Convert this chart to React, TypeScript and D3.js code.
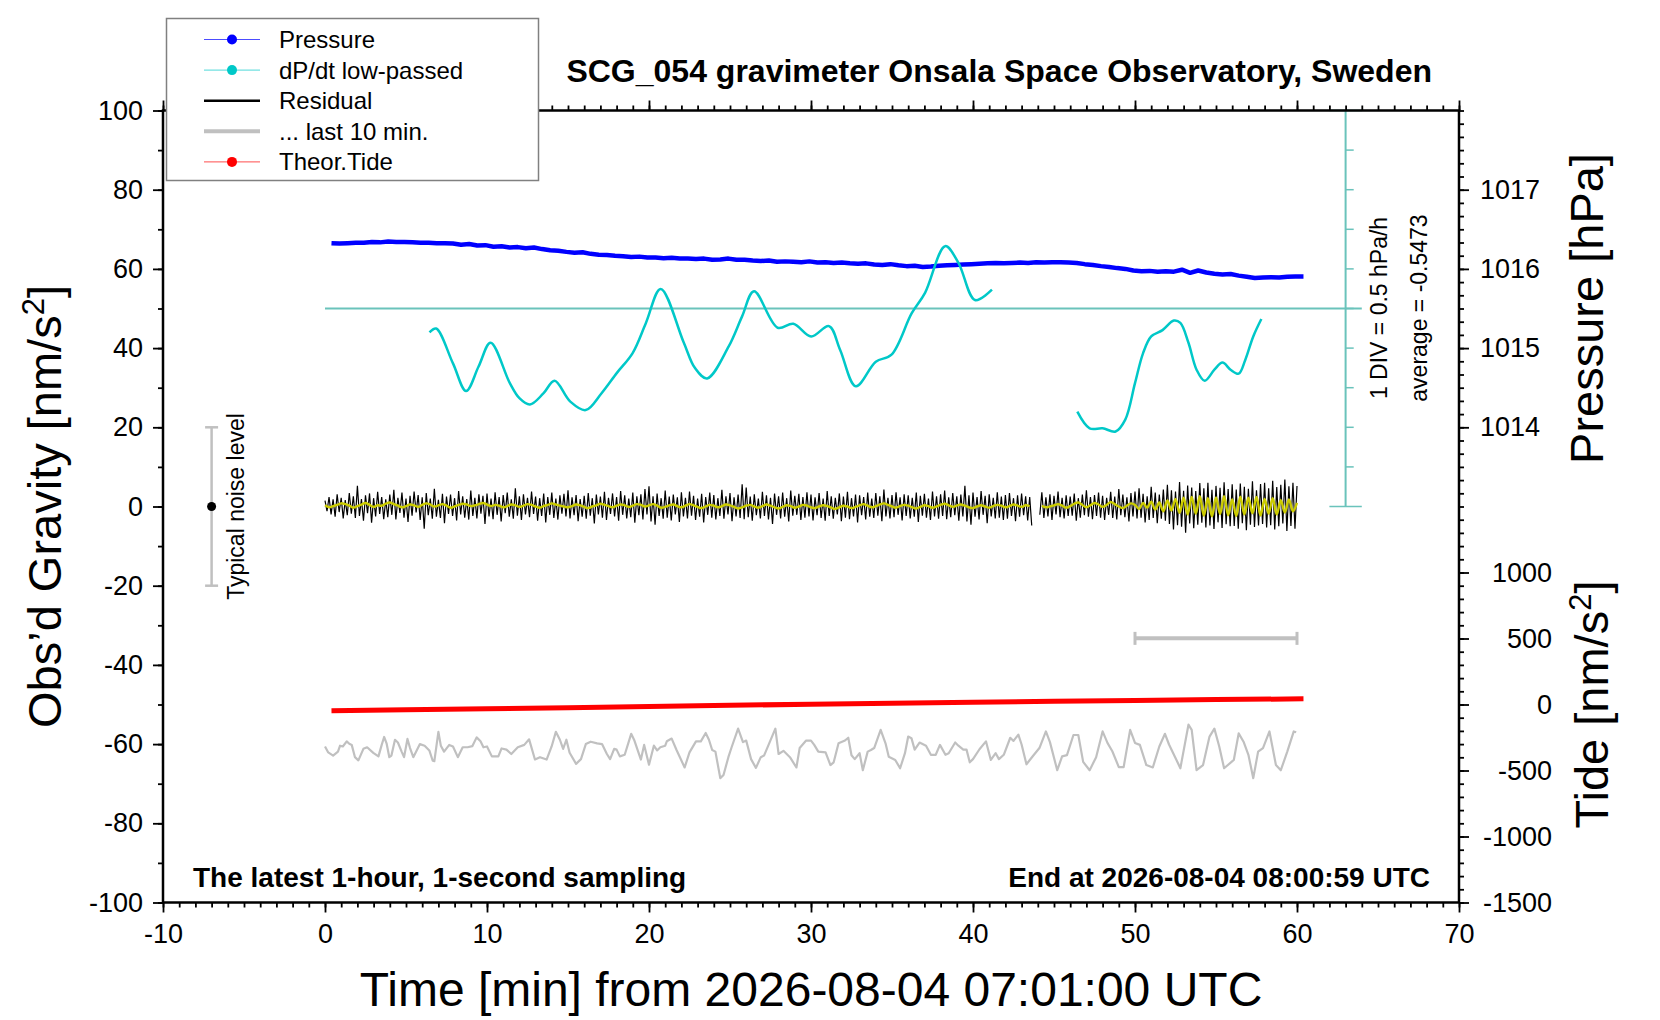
import React, { useEffect, useRef } from 'react';
import * as d3 from 'd3';

const WIDTH = 1660;
const HEIGHT = 1020;
const FONT = '"Liberation Sans", Arial, Helvetica, sans-serif';

// Pressure [hPa], one value every 0.5 min from t = 0.4 min
const PRESSURE_T0 = 0.4;
const PRESSURE_STEP = 0.5;
const pressure = [
  1016.325, 1016.32, 1016.325, 1016.33, 1016.33, 1016.34, 1016.335, 1016.345, 1016.34, 1016.34,
  1016.335, 1016.33, 1016.33, 1016.325, 1016.325, 1016.32, 1016.305, 1016.315, 1016.295, 1016.3,
  1016.28, 1016.285, 1016.27, 1016.275, 1016.26, 1016.27, 1016.25, 1016.235, 1016.23, 1016.215,
  1016.205, 1016.21, 1016.19, 1016.18, 1016.175, 1016.165, 1016.16, 1016.15, 1016.155, 1016.145,
  1016.145, 1016.135, 1016.14, 1016.13, 1016.13, 1016.125, 1016.13, 1016.115, 1016.12, 1016.13,
  1016.115, 1016.115, 1016.105, 1016.1, 1016.105, 1016.09, 1016.095, 1016.09, 1016.085, 1016.095,
  1016.08, 1016.085, 1016.075, 1016.08, 1016.07, 1016.065, 1016.07, 1016.055, 1016.05, 1016.06,
  1016.045, 1016.035, 1016.04, 1016.025, 1016.03, 1016.04, 1016.045, 1016.05, 1016.055, 1016.06,
  1016.065, 1016.07, 1016.075, 1016.07, 1016.075, 1016.08, 1016.075, 1016.085, 1016.08, 1016.085,
  1016.085, 1016.08, 1016.075, 1016.06, 1016.05, 1016.035, 1016.025, 1016.01, 1016.0, 1015.98,
  1015.97, 1015.975, 1015.965, 1015.97, 1015.965, 1015.99, 1015.95, 1015.98, 1015.955, 1015.94,
  1015.93, 1015.935, 1015.915, 1015.9, 1015.885, 1015.89, 1015.895, 1015.89, 1015.9, 1015.905,
  1015.905,
];

// dP/dt low-passed [hPa/h], two segments of [time min, value]
const DPDT_AVG = -0.5473;
const DPDT_DIV = 0.5;
const dpdtSeg1: [number, number][] = [
  [6.45, -0.85], [6.86, -0.8], [7.9, -1.24], [8.71, -1.59], [9.48, -1.28], [10.22, -0.98],
  [11.41, -1.49], [12.0, -1.68], [12.65, -1.76], [13.48, -1.62], [14.17, -1.46], [15.13, -1.72],
  [16.09, -1.83], [17.06, -1.62], [18.02, -1.36], [18.99, -1.11], [19.81, -0.73], [20.72, -0.3],
  [22.15, -0.98], [22.84, -1.3], [23.59, -1.43], [24.91, -1.03], [25.74, -0.65], [26.48, -0.33],
  [27.94, -0.79], [28.91, -0.74], [30.01, -0.9], [31.11, -0.77], [31.8, -1.07], [32.77, -1.53],
  [34.0, -1.22], [34.97, -1.13], [36.21, -0.61], [37.04, -0.35], [38.28, 0.24], [39.1, 0.03],
  [40.12, -0.44], [41.17, -0.31],
];
const dpdtSeg2: [number, number][] = [
  [46.44, -1.85], [47.2, -2.06], [48.0, -2.06], [48.8, -2.1], [49.4, -1.95], [50.0, -1.49],
  [50.5, -1.11], [51.0, -0.9], [51.7, -0.82], [52.4, -0.7], [52.8, -0.73], [53.3, -0.98],
  [53.8, -1.32], [54.3, -1.46], [54.9, -1.32], [55.4, -1.23], [55.9, -1.32], [56.4, -1.37],
  [56.8, -1.2], [57.3, -0.9], [57.8, -0.68],
];

// Residual [nm/s^2], 1-second data shown every 7.5 s from t = 0
const RES_STEP = 0.125;
const residual: (number | null)[] = [
  1.5, -1.2, 2.4, -2.0, 1.8, -2.6, 3.1, -1.4, 2.2, -3.0, 1.6, -2.2, 3.4, -1.8, 2.6, -2.9,
  5.2, -2.4, 1.9, -3.6, 2.8, -1.7, 3.3, -4.1, 2.1, -2.5, 3.7, -1.9, 2.4, -3.2, 1.8, -2.7,
  3.0, -2.1, 4.2, -3.3, 2.2, -1.6, 3.5, -2.8, 2.0, -3.9, 2.7, -2.3, 3.8, -1.5, 2.9, -3.4,
  2.3, -5.6, 3.4, -2.2, 2.0, -3.1, 4.5, -2.6, 1.7, -2.9, 3.2, -4.2, 2.5, -1.9, 3.0, -2.4,
  2.1, -3.5, 3.9, -2.0, 2.6, -2.8, 1.9, -3.3, 4.0, -2.4, 2.2, -3.0, 3.1, -1.8, 2.7, -4.4,
  3.3, -2.5, 2.0, -3.2, 3.6, -2.1, 2.4, -3.8, 2.9, -1.7, 3.5, -2.6, 1.8, -3.1, 4.6, -2.3,
  2.6, -3.4, 3.1, -2.0, 2.2, -2.7, 3.8, -1.9, 2.5, -3.6, 2.1, -2.4, 3.3, -4.0, 2.4, -2.1,
  3.5, -2.9, 2.0, -3.3, 2.8, -1.8, 3.2, -2.5, 4.1, -3.0, 2.3, -2.2, 2.9, -3.7, 1.9, -2.6,
  2.7, -3.1, 3.4, -2.3, 2.1, -4.3, 3.0, -2.0, 2.5, -2.8, 3.7, -3.4, 2.2, -1.9, 3.3, -2.5,
  2.4, -3.6, 3.9, -2.1, 2.8, -3.0, 2.0, -2.7, 3.5, -4.1, 2.6, -2.2, 3.1, -3.3, 4.4, -2.0,
  5.1, -3.8, 2.6, -4.6, 3.3, -2.4, 2.1, -3.1, 4.0, -2.8, 2.5, -3.5, 3.0, -2.0, 2.3, -3.9,
  3.6, -2.5, 2.2, -3.0, 3.8, -2.3, 2.7, -3.4, 2.0, -2.6, 3.2, -4.0, 2.4, -2.1, 3.5, -2.8,
  2.9, -3.3, 2.1, -2.4, 4.2, -3.1, 2.6, -2.0, 3.4, -3.7, 2.3, -2.5, 3.0, -2.9, 5.6, -3.2,
  4.8, -2.7, 2.5, -3.6, 3.1, -2.2, 2.0, -3.0, 3.7, -2.4, 2.8, -3.3, 2.2, -4.4, 3.3, -2.1,
  2.6, -3.0, 3.5, -2.6, 2.1, -3.8, 4.0, -2.3, 2.7, -2.1, 3.2, -3.4, 2.4, -2.8, 3.6, -2.5,
  3.0, -3.5, 2.3, -2.2, 3.4, -2.9, 2.0, -3.6, 3.9, -2.4, 2.6, -3.1, 2.2, -2.0, 3.3, -3.7,
  2.5, -2.8, 3.7, -3.2, 2.1, -2.5, 3.0, -4.0, 2.8, -2.2, 2.4, -3.3, 3.5, -2.6, 2.0, -2.9,
  3.4, -2.3, 2.6, -3.7, 4.3, -2.5, 2.2, -3.0, 2.9, -2.7, 3.6, -2.1, 2.3, -3.5, 3.1, -2.4,
  2.8, -3.0, 2.2, -2.6, 3.5, -3.9, 2.7, -2.3, 3.2, -2.8, 2.0, -3.4, 3.8, -2.5, 2.6, -3.1,
  3.1, -2.4, 4.0, -3.2, 2.3, -2.7, 3.4, -2.2, 2.6, -3.6, 3.0, -2.5, 5.2, -3.8, 2.8, -4.6,
  3.5, -2.6, 2.4, -3.3, 3.9, -2.1, 2.7, -4.2, 3.1, -2.5, 2.2, -3.0, 3.6, -2.8, 2.5, -3.4,
  2.9, -3.1, 3.4, -2.4, 2.1, -3.7, 2.8, -2.6, 3.3, -2.2, 2.6, -3.5, 2.4, -4.8, null, null,
  null, -2.1, 3.6, -2.9, 2.3, -2.5, 3.1, -3.4, 2.7, -2.0, 3.8, -2.7, 2.2, -3.0, 2.8, -2.4,
  2.5, -2.3, 3.3, -3.6, 2.1, -2.8, 3.0, -2.2, 4.1, -2.6, 2.4, -3.2, 2.9, -2.4, 3.5, -2.8,
  2.7, -3.4, 2.2, -2.1, 3.7, -2.9, 2.5, -3.3, 4.4, -2.2, 3.0, -2.7, 2.3, -3.8, 3.4, -2.5,
  3.8, -3.0, 4.6, -2.8, 3.2, -4.0, 2.6, -3.4, 5.0, -2.9, 3.5, -4.2, 3.0, -3.1, 4.3, -3.6,
  5.5, -4.4, 4.1, -5.8, 3.8, -4.7, 6.2, -5.1, 4.0, -6.6, 5.3, -4.3, 4.8, -5.5, 3.9, -4.6,
  5.9, -4.1, 4.6, -5.3, 6.0, -4.8, 4.2, -5.7, 5.2, -4.0, 4.7, -5.4, 6.1, -4.5, 4.4, -5.0,
  5.6, -4.9, 4.3, -5.6, 5.8, -4.2, 5.0, -6.0, 4.5, -4.6, 6.4, -5.2, 4.1, -4.8, 5.7, -4.4,
  6.0, -5.3, 4.6, -4.7, 6.5, -5.8, 4.9, -5.0, 5.5, -4.3, 6.8, -6.2, 5.1, -4.9, 6.0, -5.6,
  5.2,
];

// Smoothed residual [nm/s^2], every 15 s from t = 0
const SMOOTH_STEP = 0.25;
const residualSmooth: (number | null)[] = [
  0.3, -0.2, 0.1, 0.4, 0.8, 0.6, 0.2, -0.3, 0.1, 0.5, 0.9, 0.4, -0.1, 0.3, 0.2, 0.7, 1.0, 0.6, 0.2, -0.2,
  0.1, 0.5, 0.3, -0.1, 0.4, 0.8, 0.5, 0.0, 0.3, 0.6, 0.2, -0.3, 0.0, 0.4, 0.7, 0.5, 0.1, 0.3, 0.6, 0.9,
  0.5, 0.1, 0.4, 0.2, -0.2, 0.1, 0.5, 0.3, -0.1, 0.2, 0.6, 0.4, 0.0, -0.3, 0.1, 0.4, 0.8, 0.5, 0.2, 0.0,
  -0.2, 0.1, 0.5, 0.3, -0.1, -0.4, 0.0, 0.3, 0.7, 0.4, 0.1, -0.2, 0.2, 0.5, 0.3, -0.1, 0.2, 0.6, 0.4, 0.0,
  0.3, 0.6, 0.2, -0.3, -0.1, 0.3, 0.5, 0.1, -0.2, 0.2, 0.6, 0.3, -0.1, -0.4, 0.0, 0.4, 0.2, -0.2, 0.1, 0.5,
  0.3, -0.1, -0.5, -0.2, 0.2, 0.4, 0.0, -0.3, 0.1, 0.5, 0.2, -0.2, -0.5, -0.1, 0.3, 0.1, -0.3, 0.0, 0.4, 0.2,
  -0.2, -0.4, 0.0, 0.3, 0.1, -0.3, -0.6, -0.2, 0.2, 0.0, -0.4, -0.1, 0.3, 0.6, 0.2, -0.2, 0.1, 0.5, 0.8, 0.4,
  0.0, -0.3, 0.1, 0.4, 0.2, -0.2, -0.5, -0.1, 0.3, 0.1, -0.3, 0.0, 0.4, 0.7, 0.3, -0.1, 0.2, 0.5, 0.2, -0.2,
  -0.4, 0.0, 0.3, 0.0, -0.3, 0.1, 0.4, 0.2, -0.2, 0.1, 0.5, 0.2, -0.1, 0.3, 0.1, null, null, 0.2, -0.2, 0.0,
  0.3, 0.6, 0.2, -0.3, 0.1, 0.7, 1.0, 0.4, -0.2, 0.3, 0.9, 0.5, -0.1, 0.4, 1.1, 0.6, 0.0, -0.4, 0.2, 0.8,
  0.4, -0.6, 0.9, -0.3, 1.2, -0.8, 1.0, -1.2, 1.5, -1.0, 1.9, -1.6, 2.2, -2.0, 2.4, -1.8, 2.6, -2.3, 2.1, -2.5,
  2.3, -1.9, 2.6, -2.2, 1.8, -2.4, 2.5, -2.0, 2.2, -1.7, 2.4, -2.3, 1.9, -1.8, 2.1, -2.0, 1.6, -1.5, 1.8, -1.2,
  0.9,
];

// Last 10 min of residual [nm/s^2], stretched over the hour, drawn with an offset
const LAST10_OFFSET = -60;
const LAST10_RANGE = [50, 60];
const last10: [number, number][] = [
  [0, -0.6], [0.2, -2.1], [0.5, -2.9], [0.8, -1.9], [0.93, -0.4], [1.1, -0.6], [1.34, 0.7], [1.5, 0.1],
  [1.65, -0.2], [1.85, -3.3], [2.06, -4.1], [2.37, -1.2], [2.6, -0.8], [2.98, -2.2], [3.3, -3.1], [3.5, -0.2],
  [3.65, 1.8], [3.8, 0.2], [3.97, -3.3], [4.1, -2.9], [4.32, 1.1], [4.5, 0.4], [4.73, -1.9], [4.88, -3.3],
  [5.09, 1.3], [5.25, -1.0], [5.45, -3.3], [5.86, 0.0], [6.15, -0.4], [6.44, -1.6], [6.65, -4.2], [6.75, -4.3],
  [7.0, 3.1], [7.15, -0.4], [7.35, -1.9], [7.67, -0.2], [7.9, -0.6], [8.2, -3.3], [8.5, -0.8], [8.8, -0.8],
  [9.1, -0.5], [9.36, 1.7], [9.6, 0.7], [9.78, -0.8], [10.0, -0.6], [10.3, -3.1], [10.7, -3.1], [10.9, -1.1],
  [11.2, -1.4], [11.5, -2.5], [11.9, -0.8], [12.3, -0.2], [12.6, 1.2], [12.96, -3.9], [13.27, -3.3], [13.68, -3.9],
  [13.99, -0.6], [14.25, 3.1], [14.5, 1.1], [14.7, -1.2], [14.9, 1.1], [15.1, -2.2], [15.5, -5.0], [15.8, -3.8],
  [16.1, 0.0], [16.4, 0.6], [16.8, 0.2], [17.1, 0.0], [17.4, -2.5], [17.6, -3.8], [17.85, -1.2], [18.0, -1.4],
  [18.2, -3.1], [18.5, -2.7], [18.9, 2.6], [19.1, 0.9], [19.5, -3.9], [19.7, -0.2], [20.0, -5.2], [20.3, -0.4],
  [20.5, -1.6], [20.7, -0.8], [21.0, -0.4], [21.1, 0.7], [21.4, 1.4], [21.7, -1.5], [22.2, -5.9], [22.5, -2.1],
  [22.9, 0.7], [23.2, 0.7], [23.5, 2.8], [23.7, 1.1], [23.9, -1.5], [24.1, -1.9], [24.4, -8.6], [24.6, -7.8],
  [24.9, -3.3], [25.1, -0.8], [25.5, 3.9], [25.8, 0.5], [26.0, 0.9], [26.3, -3.8], [26.6, -6.0], [26.9, -3.3],
  [27.1, -2.9], [27.4, 0.0], [27.8, 3.9], [28.0, -2.5], [28.3, -1.7], [28.7, -3.3], [29.1, -5.9], [29.3, -1.0],
  [29.7, 0.9], [30.0, 0.9], [30.2, -0.2], [30.45, -1.9], [30.9, -2.1], [31.2, -5.3], [31.4, -4.6], [31.7, 0.2],
  [32.1, 0.9], [32.3, 1.6], [32.5, -2.8], [32.7, -3.8], [33.0, -2.3], [33.2, -6.6], [33.5, -1.9], [33.7, -1.5],
  [33.9, -1.0], [34.3, 3.6], [34.6, 0.2], [34.8, -3.2], [35.2, -4.0], [35.5, -6.1], [35.8, -2.3], [36.0, 1.9],
  [36.2, 1.5], [36.4, -1.4], [36.7, 0.4], [37.1, -0.4], [37.4, -2.7], [37.7, -2.7], [37.96, -0.2], [38.3, -2.7],
  [38.5, -2.3], [38.9, 0.4], [39.1, -0.4], [39.4, -1.4], [39.6, -1.4], [39.8, -4.6], [40.0, -3.8], [40.4, -1.3],
  [40.8, 0.7], [41.1, -4.0], [41.4, -2.3], [41.6, -3.8], [41.9, -2.7], [42.3, 1.6], [42.5, 0.8], [42.8, 2.4],
  [43.0, -0.1], [43.3, -5.1], [43.7, -3.0], [44.1, -1.0], [44.5, 3.2], [44.75, 0.5], [45.2, -6.6], [45.5, -3.1],
  [45.8, -2.8], [46.2, 2.3], [46.5, 2.3], [46.8, -4.5], [47.2, -6.6], [47.6, -3.3], [48.0, 3.2], [48.3, 0.3],
  [48.6, -1.8], [49.0, -5.8], [49.3, -5.8], [49.7, 3.6], [50.0, 0.3], [50.3, -0.2], [50.7, -5.3], [51.1, -5.9],
  [51.5, -0.6], [51.85, 2.6], [52.1, -0.1], [52.5, -3.5], [52.8, -6.1], [53.3, 4.9], [53.5, 3.6], [53.8, -6.6],
  [54.2, -5.3], [54.6, 1.9], [54.9, 3.9], [55.2, -0.6], [55.5, -6.1], [56.1, -4.0], [56.4, 2.7], [56.7, 0.6],
  [57.0, -2.7], [57.3, -8.6], [57.6, -1.9], [57.9, -1.0], [58.3, 3.2], [58.7, -5.3], [59.0, -6.6], [59.4, -1.9],
  [59.8, 3.2], [59.95, 3.0],
];

// Theoretical tide [nm/s^2]
const tideT = [0.4, 5, 10, 15, 20, 25, 30, 35, 40, 45, 50, 55, 60.4];
const tideV = [-48, -40, -32, -24, -15, -6, 2, 10, 17, 24, 31, 37, 43];

// Typical noise level bar [nm/s^2]
const NOISE_T = -7;
const NOISE_LEVEL = 20;

// Axis ticks
const timeTicks = d3.range(-10, 71, 10);
const gravityTicks = d3.range(-100, 101, 20);
const pressureTicks = [1014, 1015, 1016, 1017];
const tideTicks = [-1500, -1000, -500, 0, 500, 1000];

const legendItems = [
  { label: 'Pressure', color: '#0000ff', kind: 'dot' },
  { label: 'dP/dt low-passed', color: '#00c8c8', kind: 'dot' },
  { label: 'Residual', color: '#000000', kind: 'line' },
  { label: '... last 10 min.', color: '#c0c0c0', kind: 'thick' },
  { label: 'Theor.Tide', color: '#ff0000', kind: 'dot' },
];

export default function App() {
  const svgRef = useRef<SVGSVGElement>(null);

  useEffect(() => {
    if (!svgRef.current) return;
    const svg = d3.select(svgRef.current);
    svg.selectAll('*').remove();

    const left = 163;
    const right = 1459;
    const top = 110.5;
    const bottom = 902.5;

    const x = d3.scaleLinear().domain([-10, 70]).range([left, right]);
    const yG = d3.scaleLinear().domain([-100, 100]).range([bottom, top]);
    const yP = d3.scaleLinear().domain([1008, 1018]).range([bottom, top]);
    const yT = d3.scaleLinear().domain([-1500, 4500]).range([bottom, top]);
    const yD = d3
      .scaleLinear()
      .domain([DPDT_AVG - 15 * DPDT_DIV, DPDT_AVG + 5 * DPDT_DIV])
      .range([bottom, top]);

    const txt = (s: any, size: number) =>
      s.attr('font-family', FONT).attr('font-size', size).attr('fill', '#000');

    // dP/dt scale bar (teal)
    const teal = '#6ac3bb';
    const tealX = x(63);
    const divs = d3.range(-5, 6).map(k => DPDT_AVG + k * DPDT_DIV);
    svg.append('line')
      .attr('x1', x(0)).attr('x2', x(64))
      .attr('y1', yD(DPDT_AVG)).attr('y2', yD(DPDT_AVG))
      .attr('stroke', teal).attr('stroke-width', 2);
    svg.append('line')
      .attr('x1', tealX).attr('x2', tealX)
      .attr('y1', yD(divs[0])).attr('y2', yD(divs[divs.length - 1]))
      .attr('stroke', teal).attr('stroke-width', 2);
    svg.append('g')
      .selectAll('line')
      .data(divs)
      .join('line')
      .attr('x1', (d, i) => (i === 0 || i === divs.length - 1 ? x(62) : tealX))
      .attr('x2', (d, i) => (i === 0 || i === divs.length - 1 ? x(64) : x(63.5)))
      .attr('y1', d => yD(d)).attr('y2', d => yD(d))
      .attr('stroke', teal).attr('stroke-width', 1.5);

    txt(svg.append('text'), 23)
      .attr('transform', `translate(1387,308) rotate(-90)`)
      .attr('text-anchor', 'middle')
      .text(`1 DIV = ${DPDT_DIV} hPa/h`);
    txt(svg.append('text'), 23)
      .attr('transform', `translate(1427,308) rotate(-90)`)
      .attr('text-anchor', 'middle')
      .text(`average = ${DPDT_AVG}`);

    // Pressure
    const pLine = d3.line<number>()
      .x((d, i) => x(PRESSURE_T0 + i * PRESSURE_STEP))
      .y(d => yP(d));
    svg.append('path')
      .datum(pressure)
      .attr('fill', 'none').attr('stroke', '#0000ff').attr('stroke-width', 4.5)
      .attr('stroke-linejoin', 'round')
      .attr('d', pLine);

    // dP/dt curves
    const dLine = d3.line<[number, number]>()
      .x(d => x(d[0]))
      .y(d => yD(d[1]))
      .curve(d3.curveCatmullRom);
    [dpdtSeg1, dpdtSeg2].forEach(seg => {
      svg.append('path')
        .datum(seg)
        .attr('fill', 'none').attr('stroke', '#00c8c8').attr('stroke-width', 2.5)
        .attr('d', dLine);
    });

    // Residual + smoothed residual
    const rLine = d3.line<number | null>()
      .defined(d => d !== null)
      .x((d, i) => x(i * RES_STEP))
      .y(d => yG(d as number));
    svg.append('path')
      .datum(residual)
      .attr('fill', 'none').attr('stroke', '#000').attr('stroke-width', 1.2)
      .attr('d', rLine);
    const sLine = d3.line<number | null>()
      .defined(d => d !== null)
      .x((d, i) => x(i * SMOOTH_STEP))
      .y(d => yG(d as number))
      .curve(d3.curveCatmullRom);
    svg.append('path')
      .datum(residualSmooth)
      .attr('fill', 'none').attr('stroke', '#cccc00').attr('stroke-width', 2.4)
      .attr('d', sLine);

    // Theoretical tide
    const tLine = d3.line<number>()
      .x((d, i) => x(tideT[i]))
      .y(d => yT(d));
    svg.append('path')
      .datum(tideV)
      .attr('fill', 'none').attr('stroke', '#ff0000').attr('stroke-width', 5)
      .attr('d', tLine);

    // Last 10 min
    const lLine = d3.line<[number, number]>()
      .x(d => x(d[0]))
      .y(d => yG(d[1] + LAST10_OFFSET));
    svg.append('path')
      .datum(last10)
      .attr('fill', 'none').attr('stroke', '#c0c0c0').attr('stroke-width', 2.2)
      .attr('stroke-linejoin', 'round')
      .attr('d', lLine);

    const barY = yG(-33.3);
    svg.append('line')
      .attr('x1', x(LAST10_RANGE[0])).attr('x2', x(LAST10_RANGE[1]))
      .attr('y1', barY).attr('y2', barY)
      .attr('stroke', '#c0c0c0').attr('stroke-width', 4);
    LAST10_RANGE.forEach(t => {
      svg.append('line')
        .attr('x1', x(t)).attr('x2', x(t))
        .attr('y1', barY - 6.5).attr('y2', barY + 6.5)
        .attr('stroke', '#c0c0c0').attr('stroke-width', 3);
    });

    // Typical noise level
    const nx = x(NOISE_T);
    svg.append('line')
      .attr('x1', nx).attr('x2', nx)
      .attr('y1', yG(-NOISE_LEVEL)).attr('y2', yG(NOISE_LEVEL))
      .attr('stroke', '#c0c0c0').attr('stroke-width', 2.5);
    [-NOISE_LEVEL, NOISE_LEVEL].forEach(v => {
      svg.append('line')
        .attr('x1', nx - 6.5).attr('x2', nx + 6.5)
        .attr('y1', yG(v)).attr('y2', yG(v))
        .attr('stroke', '#c0c0c0').attr('stroke-width', 2.5);
    });
    svg.append('circle').attr('cx', nx).attr('cy', yG(0)).attr('r', 4.5).attr('fill', '#000');
    txt(svg.append('text'), 23)
      .attr('transform', `translate(244,${yG(0)}) rotate(-90)`)
      .attr('text-anchor', 'middle')
      .text('Typical noise level');

    // Axes
    const tickStyle = (g: any) => {
      g.select('.domain').remove();
      g.selectAll('line').attr('stroke', '#000').attr('stroke-width', 1.8);
      g.selectAll('text').attr('font-family', FONT).attr('font-size', 27).attr('fill', '#000');
    };
    const fmt = (d: any) => String(d);

    // minor ticks
    svg.append('g').attr('transform', `translate(0,${bottom})`)
      .call(d3.axisBottom(x).tickValues(d3.range(-10, 71, 1)).tickSize(5).tickFormat(() => ''))
      .call(tickStyle);
    svg.append('g').attr('transform', `translate(0,${top})`)
      .call(d3.axisTop(x).tickValues(d3.range(-10, 71, 1)).tickSize(5).tickFormat(() => ''))
      .call(tickStyle);
    svg.append('g').attr('transform', `translate(0,${top})`)
      .call(d3.axisTop(x).tickValues(timeTicks).tickSize(10).tickFormat(() => ''))
      .call(tickStyle);
    svg.append('g').attr('transform', `translate(0,${bottom})`)
      .call(d3.axisBottom(x).tickValues(timeTicks).tickSize(10).tickPadding(11).tickFormat(fmt))
      .call(tickStyle);

    svg.append('g').attr('transform', `translate(${left},0)`)
      .call(d3.axisLeft(yG).tickValues(d3.range(-100, 101, 10)).tickSize(5).tickFormat(() => ''))
      .call(tickStyle);
    svg.append('g').attr('transform', `translate(${left},0)`)
      .call(d3.axisLeft(yG).tickValues(gravityTicks).tickSize(10).tickPadding(10).tickFormat(fmt))
      .call(tickStyle);

    svg.append('g').attr('transform', `translate(${right},0)`)
      .call(d3.axisRight(yT).tickValues(d3.range(-1500, 4501, 100)).tickSize(5).tickFormat(() => ''))
      .call(tickStyle);
    svg.append('g').attr('transform', `translate(${right},0)`)
      .call(d3.axisRight(yT).tickValues(tideTicks).tickSize(10).tickFormat(fmt))
      .call(tickStyle)
      .call((g: any) => g.selectAll('text').attr('x', 93).attr('text-anchor', 'end'));
    svg.append('g').attr('transform', `translate(${right},0)`)
      .call(d3.axisRight(yP).tickValues(pressureTicks).tickSize(10).tickPadding(11).tickFormat(fmt))
      .call(tickStyle);

    // Frame
    svg.append('rect')
      .attr('x', left).attr('y', top)
      .attr('width', right - left).attr('height', bottom - top)
      .attr('fill', 'none').attr('stroke', '#000').attr('stroke-width', 2.5);

    // Axis titles
    const gLabel = txt(svg.append('text'), 47)
      .attr('transform', `translate(61,${yG(0)}) rotate(-90)`)
      .attr('text-anchor', 'middle');
    gLabel.append('tspan').text('Obs\u2019d Gravity [nm/s');
    gLabel.append('tspan').attr('dy', -17).attr('font-size', 31).text('2');
    gLabel.append('tspan').attr('dy', 17).text(']');

    txt(svg.append('text'), 47)
      .attr('transform', `translate(1603,${yP(1015.5)}) rotate(-90)`)
      .attr('text-anchor', 'middle')
      .text('Pressure [hPa]');

    const tLabel = txt(svg.append('text'), 47)
      .attr('transform', `translate(1608,${yT(0)}) rotate(-90)`)
      .attr('text-anchor', 'middle');
    tLabel.append('tspan').text('Tide [nm/s');
    tLabel.append('tspan').attr('dy', -17).attr('font-size', 31).text('2');
    tLabel.append('tspan').attr('dy', 17).text(']');

    txt(svg.append('text'), 48)
      .attr('x', x(30)).attr('y', 1006)
      .attr('text-anchor', 'middle')
      .text('Time [min] from 2026-08-04 07:01:00 UTC');

    // Title and notes
    txt(svg.append('text'), 32)
      .attr('x', 1432).attr('y', 82)
      .attr('text-anchor', 'end').attr('font-weight', 'bold')
      .text('SCG_054 gravimeter Onsala Space Observatory, Sweden');
    txt(svg.append('text'), 28)
      .attr('x', 193).attr('y', 887)
      .attr('font-weight', 'bold')
      .text('The latest 1-hour, 1-second sampling');
    txt(svg.append('text'), 28)
      .attr('x', 1430).attr('y', 887)
      .attr('text-anchor', 'end').attr('font-weight', 'bold')
      .text('End at 2026-08-04 08:00:59 UTC');

    // Legend
    const lg = svg.append('g');
    lg.append('rect')
      .attr('x', 166.5).attr('y', 18.5).attr('width', 372).attr('height', 162)
      .attr('fill', '#fff').attr('stroke', '#808080').attr('stroke-width', 1.5);
    const rows = lg.selectAll('g.item')
      .data(legendItems)
      .join('g')
      .attr('class', 'item')
      .attr('transform', (d, i) => `translate(0,${39.5 + i * 30.6})`);
    rows.append('line')
      .attr('x1', 204).attr('x2', 260).attr('y1', 0).attr('y2', 0)
      .attr('stroke', d => d.color)
      .attr('stroke-opacity', d => (d.kind === 'dot' ? 0.7 : 1))
      .attr('stroke-width', d => (d.kind === 'dot' ? 1 : d.kind === 'line' ? 2.5 : 4));
    rows.filter(d => d.kind === 'dot')
      .append('circle')
      .attr('cx', 232).attr('cy', 0).attr('r', 5)
      .attr('fill', d => d.color);
    rows.append('text')
      .attr('x', 279).attr('y', 8.5)
      .attr('font-family', FONT).attr('font-size', 24).attr('fill', '#000')
      .text(d => d.label);
  }, []);

  return (
    <div style={{ position: 'absolute', left: 0, top: 0 }}>
      <svg ref={svgRef} width={WIDTH} height={HEIGHT} style={{ display: 'block', background: '#fff' }} />
    </div>
  );
}
